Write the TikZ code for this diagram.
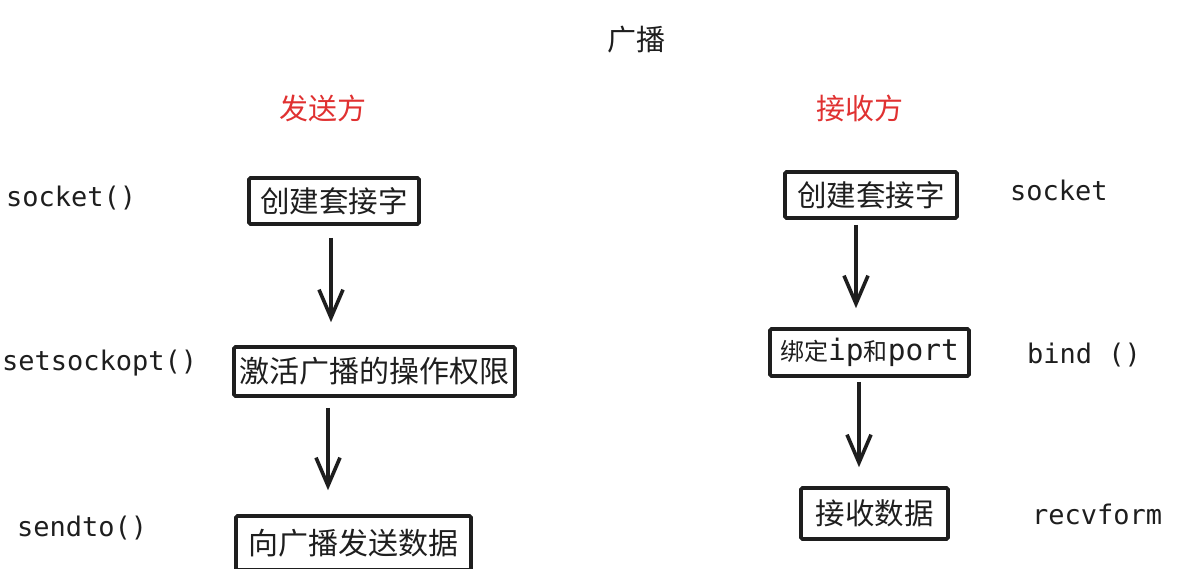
\documentclass[tikz,border=0pt]{standalone}
\usepackage{fontspec}
\setmainfont{Noto Sans CJK SC}
\newfontfamily\cjk{Noto Sans CJK SC}
\newfontfamily\codefont{DejaVu Sans Mono}
\usetikzlibrary{arrows.meta}
\definecolor{exred}{HTML}{E03131}
\definecolor{exblack}{HTML}{1E1E1E}
\tikzset{
  stepbox/.style={draw=exblack, line width=3.6pt, rounded corners=1.5pt, inner sep=0pt, align=center, text=exblack},
  codelbl/.style={anchor=west, inner sep=0pt, text=exblack, font=\codefont\fontsize{27}{30}\selectfont},
  arr/.style={draw=exblack, line width=3.6pt, -{Straight Barb[length=28pt, width=24pt, line width=3.6pt]}},
  heading/.style={inner sep=0pt, font=\cjk\fontsize{29}{34}\selectfont}
}
\begin{document}
\begin{tikzpicture}[x=1pt, y=-1pt]
\useasboundingbox (0,0) rectangle (1177,568);
% titles
\node[heading, text=exblack] (title) at (636,40) {广播};
\node[heading, text=exred] (sender) at (323,108) {发送方};
\node[heading, text=exred] (receiver) at (860,108) {接收方};
% left column
\node[stepbox, minimum width=170pt, minimum height=46pt, font=\cjk\fontsize{29.5}{34}\selectfont] (l1) at (334,201) {创建套接字};
\node[stepbox, minimum width=281pt, minimum height=49pt, font=\cjk\fontsize{30}{34}\selectfont] (l2) at (374.5,371.5) {激活广播的操作权限};
\node[stepbox, minimum width=235pt, minimum height=54pt, font=\cjk\fontsize{30}{34}\selectfont] (l3) at (353.5,543) {向广播发送数据};
% right column
\node[stepbox, minimum width=172pt, minimum height=46pt, font=\cjk\fontsize{29.5}{34}\selectfont] (r1) at (871,195) {创建套接字};
\node[stepbox, minimum width=199pt, minimum height=47pt, font=\cjk\fontsize{24}{28}\selectfont] (r2) at (869.5,352.5) {绑定{\codefont\fontsize{29.5}{30}\selectfont ip}和{\codefont\fontsize{29.5}{30}\selectfont port}};
\node[stepbox, minimum width=147pt, minimum height=51pt, font=\cjk\fontsize{29.5}{34}\selectfont] (r3) at (874.5,513.5) {接收数据};
% code labels
\node[codelbl] (c1) at (6,198) {socket()};
\node[codelbl] (c2) at (2,363) {setsockopt()};
\node[codelbl] (c3) at (17,528) {sendto()};
\node[codelbl] (c4) at (1010,190) {socket};
\node[codelbl] (c5) at (1027,355) {bind ()};
\node[codelbl] (c6) at (1032,514) {recvform};
% arrows
\draw[arr, shorten <=12pt, shorten >=23pt] ([xshift=-3pt]l1.south) -- ([xshift=-3pt]l1.south |- l2.north);
\draw[arr, shorten <=10pt, shorten >=24pt] ([xshift=-46.5pt]l2.south) -- ([xshift=-46.5pt]l2.south |- l3.north);
\draw[arr, shorten <=5pt, shorten >=19pt] ([xshift=-15pt]r1.south) -- ([xshift=-15pt]r1.south |- r2.north);
\draw[arr, shorten <=4pt, shorten >=19pt] ([xshift=-10.5pt]r2.south) -- ([xshift=-10.5pt]r2.south |- r3.north);
\end{tikzpicture}
\end{document}
